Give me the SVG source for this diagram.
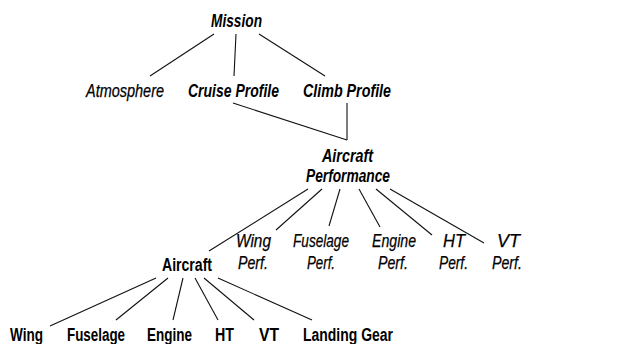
<svg xmlns="http://www.w3.org/2000/svg" width="644" height="344" viewBox="0 0 644 344">
  <style>
    text { font-family: "Liberation Sans", "DejaVu Sans", sans-serif; font-size: 18px; fill: #000; }
    .bi { font-weight: bold; font-style: italic; }
    .i { font-style: italic; stroke: #000; stroke-width: 0.25; }
    .b { font-weight: bold; }
    .edges line { stroke: #111; stroke-width: 1.1; fill: none; }
  </style>
  <rect width="644" height="344" fill="#fff"/>

  <g class="edges" id="connectors">
    <line x1="214" y1="34" x2="150" y2="76"/>
    <line x1="236" y1="34" x2="234" y2="76"/>
    <line x1="259" y1="34" x2="325" y2="76"/>
    <line x1="233" y1="103" x2="347" y2="140"/>
    <line x1="347" y1="103" x2="347" y2="140"/>
    <line x1="308" y1="189" x2="209" y2="251"/>
    <line x1="322" y1="189" x2="276" y2="230"/>
    <line x1="340" y1="189" x2="329" y2="226"/>
    <line x1="359" y1="189" x2="380" y2="227"/>
    <line x1="376" y1="189" x2="432" y2="235"/>
    <line x1="390" y1="189" x2="484" y2="243"/>
    <line x1="156" y1="278" x2="50" y2="326"/>
    <line x1="168" y1="278" x2="116" y2="320"/>
    <line x1="183" y1="278" x2="173" y2="320"/>
    <line x1="195" y1="278" x2="218" y2="320"/>
    <line x1="204" y1="278" x2="254" y2="320"/>
    <line x1="218" y1="278" x2="312" y2="320"/>
  </g>

  <g id="mission"><text class="bi" x="211" y="27" textLength="51" lengthAdjust="spacingAndGlyphs">Mission</text></g>
  <g id="atmosphere"><text class="i" x="86" y="97" textLength="78" lengthAdjust="spacingAndGlyphs">Atmosphere</text></g>
  <g id="cruise-profile"><text class="bi" x="188" y="97" textLength="91" lengthAdjust="spacingAndGlyphs">Cruise Profile</text></g>
  <g id="climb-profile"><text class="bi" x="303" y="97" textLength="88" lengthAdjust="spacingAndGlyphs">Climb Profile</text></g>
  <g id="aircraft-performance">
    <text class="bi" x="322" y="162" textLength="51" lengthAdjust="spacingAndGlyphs">Aircraft</text>
    <text class="bi" x="306" y="182" textLength="84" lengthAdjust="spacingAndGlyphs">Performance</text>
  </g>
  <g id="wing-perf">
    <text class="i" x="236" y="247" textLength="35" lengthAdjust="spacingAndGlyphs">Wing</text>
    <text class="i" x="238" y="269" textLength="30" lengthAdjust="spacingAndGlyphs">Perf.</text>
  </g>
  <g id="fuselage-perf">
    <text class="i" x="293" y="247" textLength="56" lengthAdjust="spacingAndGlyphs">Fuselage</text>
    <text class="i" x="307" y="269" textLength="28" lengthAdjust="spacingAndGlyphs">Perf.</text>
  </g>
  <g id="engine-perf">
    <text class="i" x="372" y="247" textLength="44" lengthAdjust="spacingAndGlyphs">Engine</text>
    <text class="i" x="378" y="269" textLength="30" lengthAdjust="spacingAndGlyphs">Perf.</text>
  </g>
  <g id="ht-perf">
    <text class="i" x="443" y="247" textLength="22" lengthAdjust="spacingAndGlyphs">HT</text>
    <text class="i" x="439" y="269" textLength="29" lengthAdjust="spacingAndGlyphs">Perf.</text>
  </g>
  <g id="vt-perf">
    <text class="i" x="497" y="247" textLength="23" lengthAdjust="spacingAndGlyphs">VT</text>
    <text class="i" x="492" y="269" textLength="30" lengthAdjust="spacingAndGlyphs">Perf.</text>
  </g>
  <g id="aircraft"><text class="b" x="162" y="271" textLength="50" lengthAdjust="spacingAndGlyphs">Aircraft</text></g>
  <g id="wing"><text class="b" x="10" y="341" textLength="33" lengthAdjust="spacingAndGlyphs">Wing</text></g>
  <g id="fuselage"><text class="b" x="67" y="341" textLength="58" lengthAdjust="spacingAndGlyphs">Fuselage</text></g>
  <g id="engine"><text class="b" x="147" y="341" textLength="45" lengthAdjust="spacingAndGlyphs">Engine</text></g>
  <g id="ht"><text class="b" x="215" y="341" textLength="19" lengthAdjust="spacingAndGlyphs">HT</text></g>
  <g id="vt"><text class="b" x="259" y="341" textLength="20" lengthAdjust="spacingAndGlyphs">VT</text></g>
  <g id="landing-gear"><text class="b" x="303" y="341" textLength="90" lengthAdjust="spacingAndGlyphs">Landing Gear</text></g>
</svg>
